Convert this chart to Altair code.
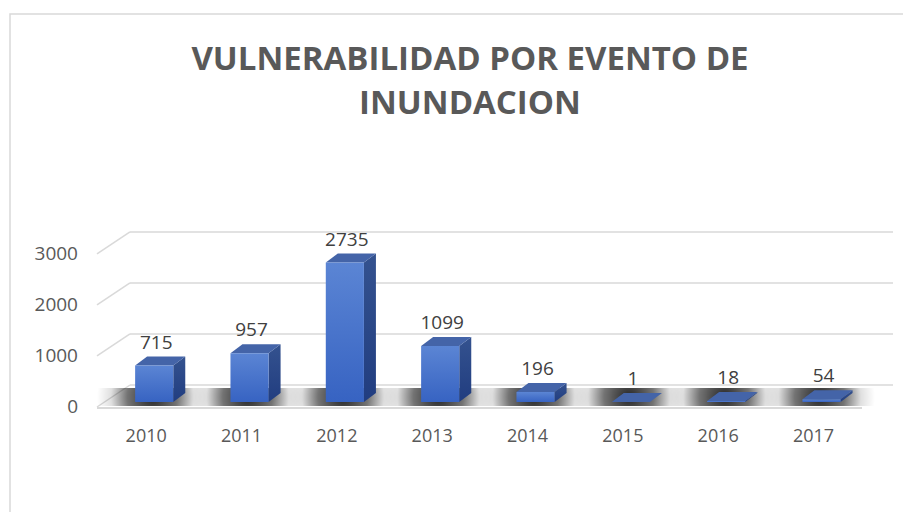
import altair as alt
import pandas as pd

# ---- data ----
years = ["2010", "2011", "2012", "2013", "2014", "2015", "2016", "2017"]
values = [715, 957, 2735, 1099, 196, 1, 18, 54]
grid_values = [0, 1000, 2000, 3000]
title_lines = ["VULNERABILIDAD POR EVENTO DE", "INUNDACION"]

# ---- layout / style constants ----
W, H = 796, 178
X_DOMAIN = [-0.6, 7.75]
Y_DOMAIN = [0, 3490]
HALF = 0.2                      # half width of front face (index units)
DX = 12 / (W / (X_DOMAIN[1] - X_DOMAIN[0]))   # depth offset, index units
DY = 9 / (H / Y_DOMAIN[1])                    # depth offset, value units
FONT = "Open Sans"
GREY_TXT = "#595959"
GRID = "#d9d9d9"

bars = pd.DataFrame({"year": years, "value": values, "i": range(len(years))})
bars["xl"] = bars["i"] - HALF
bars["xr"] = bars["i"] + HALF

side_rows = []
top_rows = []
for _, r in bars.iterrows():
    side_rows.append({"year": r.year, "x": r.xr, "y": r.value, "y2": 0})
    side_rows.append({"year": r.year, "x": r.xr + DX, "y": r.value + DY, "y2": DY})
    top_rows.append({"year": r.year, "y": r.value, "x": r.xl, "x2": r.xr})
    top_rows.append({"year": r.year, "y": r.value + DY, "x": r.xl + DX, "x2": r.xr + DX})
side = pd.DataFrame(side_rows)
top = pd.DataFrame(top_rows)
grid = pd.DataFrame({"v": grid_values})

xs = alt.Scale(domain=X_DOMAIN, nice=False, zero=False)
ys = alt.Scale(domain=Y_DOMAIN, nice=False)

X = lambda f: alt.X(f, type="quantitative", scale=xs, axis=None)
Y = lambda f: alt.Y(f, type="quantitative", scale=ys, axis=None)

# frame around the chart object
frame = alt.Chart(grid).mark_rect(fill="transparent", stroke=GRID, strokeWidth=1.5).encode(
    x=alt.value(-87), x2=alt.value(840), y=alt.value(-210), y2=alt.value(420)
).transform_filter("datum.v == 0")

# 3D gridlines: back wall lines + left diagonals
back = alt.Chart(grid).mark_rule(color=GRID, strokeWidth=1.5, yOffset=-17).encode(
    x=alt.value(33), x2=alt.value(W), y=Y("v")
)
diag = alt.Chart(grid).mark_rule(color=GRID, strokeWidth=1.5, yOffset=5, y2Offset=-17).encode(
    x=alt.value(0), x2=alt.value(33), y=Y("v"), y2="v:Q"
)
floor_front = alt.Chart(grid).mark_rule(color=GRID, strokeWidth=2, yOffset=6).encode(
    x=alt.value(0), x2=alt.value(765), y=Y("v")
).transform_filter("datum.v == 0")

y_labels = alt.Chart(grid).mark_text(
    font=FONT, fontSize=19, color=GREY_TXT, align="right", baseline="middle", dy=5
).encode(x=alt.value(-19), y=Y("v"), text="v:Q")

shadow_fill = {
    "gradient": "radial", "x1": 0.5, "y1": 0.5, "x2": 0.5, "y2": 0.5, "r1": 0, "r2": 0.5,
    "stops": [
        {"offset": 0, "color": "rgba(0,0,0,0.85)"},
        {"offset": 0.45, "color": "rgba(0,0,0,0.55)"},
        {"offset": 0.75, "color": "rgba(0,0,0,0.12)"},
        {"offset": 1, "color": "rgba(0,0,0,0)"},
    ],
}
shadow = alt.Chart(bars).mark_rect(fill=shadow_fill, yOffset=4, y2Offset=-14).transform_calculate(
    sx="datum.i - 0.6", sx2="datum.i + 0.56"
).encode(x=X("sx"), x2="sx2:Q", y=alt.Y(datum=0, scale=ys, axis=None), y2=alt.Y2(datum=0))

side_fill = {
    "gradient": "linear", "x1": 0, "y1": 0, "x2": 0, "y2": 1,
    "stops": [{"offset": 0, "color": "#34528f"}, {"offset": 1, "color": "#213d80"}],
}
side_layer = alt.Chart(side).mark_area(fill=side_fill, orient="vertical").encode(
    x=X("x"), y=Y("y"), y2="y2:Q", detail="year:N"
)
top_layer = alt.Chart(top).mark_area(color="#4464a8", orient="horizontal").encode(
    y=Y("y"), x=X("x"), x2="x2:Q", detail="year:N"
)
front_fill = {
    "gradient": "linear", "x1": 0, "y1": 0, "x2": 0, "y2": 1,
    "stops": [{"offset": 0, "color": "#5b85d4"}, {"offset": 1, "color": "#3763c2"}],
}
front = alt.Chart(bars).mark_rect(fill=front_fill).encode(
    x=X("xl"), x2="xr:Q", y=Y("value"), y2=alt.Y2(datum=0)
)

value_labels = alt.Chart(bars).mark_text(
    font=FONT, fontSize=19, color="#404040", baseline="alphabetic", dy=-17, dx=2
).encode(x=X("i"), y=Y("value"), text="value:Q")

year_labels = alt.Chart(bars).mark_text(
    font=FONT, fontSize=18, color=GREY_TXT, baseline="middle", dy=35, dx=-8
).encode(x=X("i"), y=alt.Y(datum=0, scale=ys, axis=None), text="year:N")

chart = alt.layer(
    frame, back, diag, floor_front, y_labels, shadow, side_layer, top_layer, front,
    value_labels, year_labels
).properties(
    width=W, height=H,
    background="white",
    autosize=alt.AutoSizeParams(type="none"),
    padding={"left": 89, "top": 216, "right": 10, "bottom": 110},
    title=alt.TitleParams(
        text=title_lines, font=FONT, fontSize=33, fontWeight="bold", color=GREY_TXT,
        anchor="middle", frame="group", dx=-25, offset=-108, lineHeight=44,
    ),
).configure_view(stroke=None)

chart.save("out.html", embed_options={"renderer": "svg", "actions": False})
